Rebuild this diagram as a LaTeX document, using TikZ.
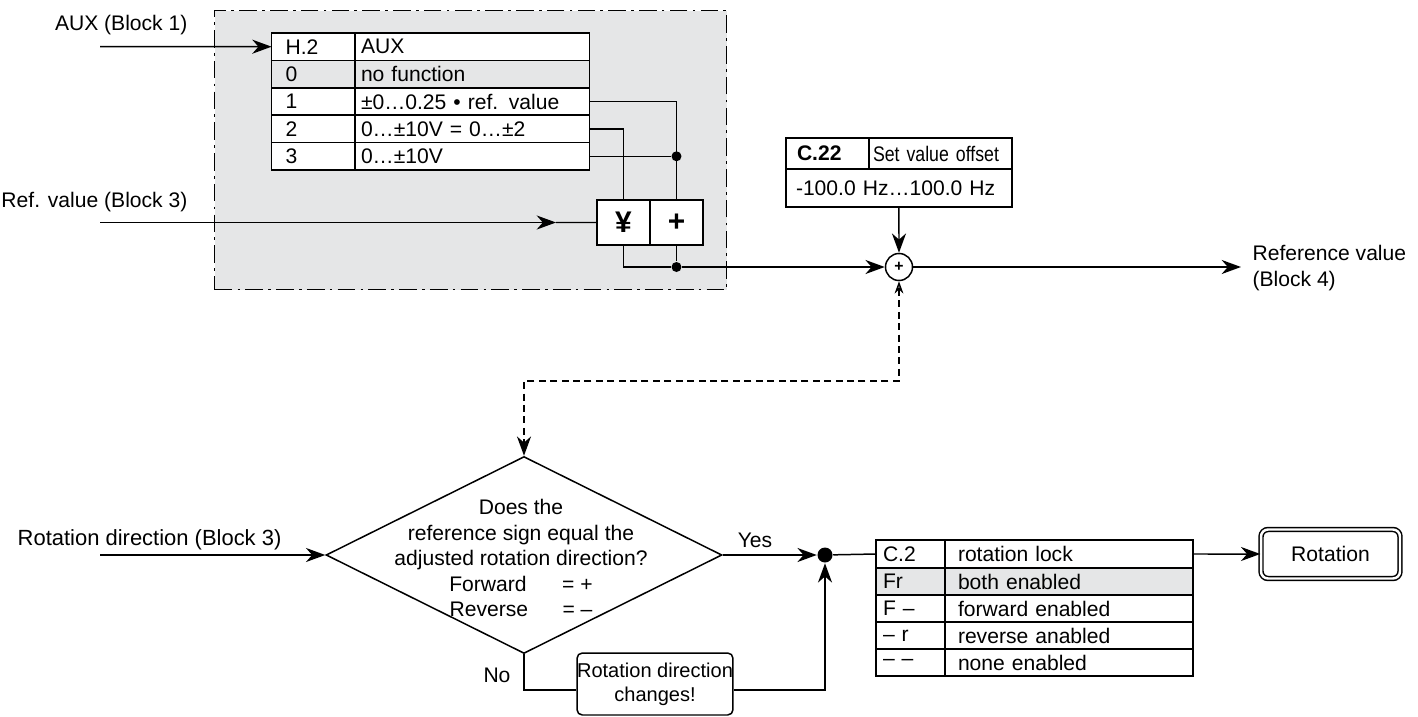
\documentclass[tikz,border=0pt]{standalone}
\usepackage{fontspec}
\setmainfont{Liberation Sans}
\newfontfamily\narrowsf{Liberation Sans}[FakeStretch=0.84]
\usepackage{tikz}
\usetikzlibrary{positioning, shapes.geometric, arrows.meta}
\definecolor{panelgrey}{RGB}{229,230,231}
\newcommand{\figfont}{\fontsize{12}{14.5}\selectfont}

\begin{document}
\begin{tikzpicture}[
    x=0.02cm, y=-0.02cm,
    font=\figfont,
    line width=0.85pt,
    >={Stealth[length=11pt, width=8pt, inset=3.5pt]},
    every node/.style={align=center},
    panel/.style={draw, fill=panelgrey, dash pattern=on 10pt off 3pt on 1.5pt off 3pt,
                  anchor=north west, minimum width=10.24cm, minimum height=5.58cm},
    cellbase/.style={draw, fill=white, anchor=north west, outer sep=0pt, align=left,
                     inner ysep=0pt, minimum height=0.548cm},
    h2key/.style={cellbase, inner xsep=0.28cm, text width=1.108cm},
    h2val/.style={cellbase, inner xsep=0.12cm, text width=4.45cm},
    c2key/.style={cellbase, inner xsep=0.14cm, text width=1.1cm, minimum height=0.54cm},
    c2val/.style={cellbase, inner xsep=0.26cm, text width=4.44cm, minimum height=0.54cm},
    opbox/.style={draw, fill=white, anchor=north west, outer sep=0pt, minimum width=1.06cm,
                  minimum height=0.9cm, inner sep=0pt, font=\fontsize{17}{17}\selectfont\bfseries},
    sumnode/.style={draw, circle, fill=white, minimum size=0.54cm, inner sep=0pt,
                    font=\small\bfseries},
    dot/.style={circle, fill, inner sep=0pt, minimum size=0.2cm},
    bigdot/.style={dot, minimum size=0.3cm},
    decision/.style={draw, diamond, minimum width=7.92cm, minimum height=3.94cm, inner sep=0pt},
    notebox/.style={draw, rounded corners=3pt, fill=white, minimum width=3.12cm,
                    minimum height=1.24cm, inner sep=0pt, font=\fontsize{11.4}{13.5}\selectfont},
    outbox/.style={draw, double, double distance=1.4pt, rounded corners=4pt,
                   minimum width=2.78cm, minimum height=0.98cm},
    dashlink/.style={dash pattern=on 4pt off 2.5pt},
  ]
  \useasboundingbox (0,0) rectangle (1418,717);

  % AUX block
  \node[panel] (auxpanel) at (214,10) {};
  \node[h2key] (h2k) at (271.6,33) {H.2};
  \node[h2val] (h2v) at (355,33) {AUX};
  \node[h2key, fill=panelgrey] (h2k0) at (271.6,60.4) {0};
  \node[h2val, fill=panelgrey] (h2v0) at (355,60.4) {no function};
  \node[h2key] (h2k1) at (271.6,87.8) {1};
  \node[h2val] (h2v1) at (355,87.8) {±0…0.25 • ref. value};
  \node[h2key] (h2k2) at (271.6,115.2) {2};
  \node[h2val] (h2v2) at (355,115.2) {0…±10V = 0…±2};
  \node[h2key] (h2k3) at (271.6,142.6) {3};
  \node[h2val] (h2v3) at (355,142.6) {0…±10V};
  \node[opbox] (mulbox) at (597,200) {¥};
  \node[opbox] (addbox) at (650,200) {+};
  \node[sumnode] (sum) at (899,267) {+};
  \node[dot] (jrow) at (h2v3.east -| addbox.north) {};
  \node[dot] (jout) at (addbox.south |- sum) {};

  \node[anchor=east] (auxlabel) at (194,25) {AUX (Block 1)};
  \coordinate (auxin) at (100,46.7);
  \draw[->] (auxin) -- (h2k.west);
  \node[anchor=east] (reflabel) at (194,202) {Ref. value (Block 3)};
  \coordinate (refin) at (100,222.5);
  \coordinate (refmid) at (556,222.5);
  \draw[->] (refin) -- (refmid);
  \draw (refmid) -- (mulbox.west);
  \draw (h2v1.east) -| (addbox.north);
  \draw (h2v2.east) -| (mulbox.north);
  \draw (h2v3.east) -- (jrow);
  \draw (mulbox.south) |- (jout);
  \draw (addbox.south) -- (jout);
  \draw[->] (jout) -- (sum);

  % offset
  \node[cellbase, minimum height=0.62cm, inner xsep=0.22cm, text width=1.22cm,
        font=\figfont\bfseries] (c22k) at (786,138) {C.22};
  \node[cellbase, minimum height=0.62cm, inner xsep=0.08cm, text width=2.7cm,
        font=\figfont\narrowsf] (c22v) at (869,138) {Set value offset};
  \node[cellbase, minimum height=0.76cm, inner xsep=0.2cm, text width=4.12cm]
        (c22r) at (786,169) {-100.0 Hz…100.0 Hz};
  \draw[->] (c22r.south) -- (sum.north);

  \coordinate (refout) at (1241,267);
  \draw[->] (sum) -- (refout);
  \node[anchor=west, align=left] (outlabel) at (1246,268) {Reference value\\(Block 4)};

  % rotation decision
  \node[decision] (decide) at (524,555) {};
  \node (decidetext) at (521,558) {Does the\\reference sign equal the\\adjusted rotation direction?\\
    \makebox[2.26cm][l]{Forward}= +\\\makebox[2.26cm][l]{Reverse}= –};
  \coordinate (dashturn) at (899,381);
  \coordinate (dashdrop) at (524,381);
  \draw[dashlink, arrows={Stealth[open, length=7pt, width=5pt]-Stealth[length=11pt, width=8pt, inset=3.5pt]}]
    (sum.south) -- (dashturn) -- (dashdrop) -- (decide.north);

  \node[anchor=east, font=\fontsize{12.5}{14.5}\selectfont] (rotlabel) at (288,540) {Rotation direction (Block 3)};
  \coordinate (rotin) at (100,555);
  \draw[->] (rotin) -- (decide.west);

  \node[bigdot] (jrot) at (825,555) {};
  \draw[->] (decide.east) -- (jrot);
  \node (yeslabel) at (755,540) {Yes};

  \node[notebox] (chgbox) at (655,684) {Rotation direction\\changes!};
  \coordinate (nobend) at (524,690);
  \coordinate (noret) at (825,690);
  \draw (decide.south) -- (nobend) -- (nobend -| chgbox.west);
  \draw[->] (nobend -| chgbox.east) -- (noret) -- (jrot);
  \node (nolabel) at (497,675) {No};

  % rotation lock
  \node[c2key, minimum height=0.56cm] (c2k) at (876,540) {C.2};
  \node[c2val, minimum height=0.56cm] (c2v) at (945,540) {rotation lock};
  \node[c2key, fill=panelgrey] (c2k0) at (876,568) {Fr};
  \node[c2val, fill=panelgrey] (c2v0) at (945,568) {both enabled};
  \node[c2key] (c2k1) at (876,595) {F –};
  \node[c2val] (c2v1) at (945,595) {forward enabled};
  \node[c2key] (c2k2) at (876,622) {– r};
  \node[c2val] (c2v2) at (945,622) {reverse anabled};
  \node[c2key] (c2k3) at (876,649) {– –};
  \node[c2val] (c2v3) at (945,649) {none enabled};
  \draw (jrot) -- (c2k.west);

  \node[outbox] (rotbox) at (1330.5,554) {Rotation};
  \draw[->] (c2v.east) -- (rotbox.west);
\end{tikzpicture}
\end{document}
